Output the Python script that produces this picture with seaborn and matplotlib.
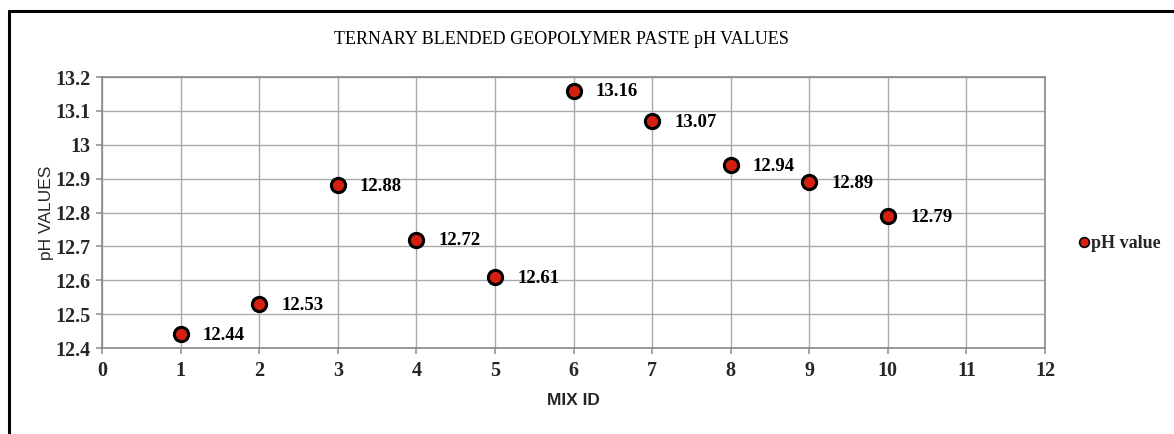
import matplotlib
matplotlib.use("Agg")
import matplotlib.pyplot as plt
import seaborn as sns
import pandas as pd
from matplotlib.lines import Line2D

mix_id = [1, 2, 3, 4, 5, 6, 7, 8, 9, 10]
ph_values = [12.44, 12.53, 12.88, 12.72, 12.61, 13.16, 13.07, 12.94, 12.89, 12.79]
x_ticks = list(range(0, 13))
y_ticks = [12.4, 12.5, 12.6, 12.7, 12.8, 12.9, 13.0, 13.1, 13.2]
y_tick_labels = ["12.4", "12.5", "12.6", "12.7", "12.8", "12.9", "13", "13.1", "13.2"]

df = pd.DataFrame({"MIX ID": mix_id, "pH value": ph_values})

sns.set_theme(style="white")
serif = ["Liberation Serif", "DejaVu Serif"]
sans = ["Liberation Sans", "DejaVu Sans"]

W, H = 1174, 434
fig = plt.figure(figsize=(W / 100, H / 100), dpi=100)
ax = fig.add_axes([102 / W, 1 - 348 / H, (1045 - 102) / W, (348 - 77) / H])

sns.scatterplot(data=df, x="MIX ID", y="pH value", ax=ax, s=105, color="#d42010",
                edgecolor="black", linewidth=2.2, zorder=3, legend=False)

for x, y in zip(mix_id, ph_values):
    ax.annotate(f"{y:.2f}", (x, y), xytext=(16, -1), textcoords="offset points",
                ha="left", va="center", fontsize=13.5, fontweight="bold",
                family=serif, color="black")

ax.set_xlim(0, 12)
ax.set_ylim(12.4, 13.2)
ax.set_xticks(x_ticks)
ax.set_xticklabels([str(t) for t in x_ticks], family=serif, fontweight="bold", fontsize=14.5)
ax.set_yticks(y_ticks)
ax.set_yticklabels(y_tick_labels, family=serif, fontweight="bold", fontsize=14.5)
ax.tick_params(axis="x", length=4, color="#999999", direction="out", pad=5, bottom=True)
ax.tick_params(axis="y", length=4, color="#999999", direction="out", pad=4, left=True)
ax.grid(True, color="#aaaaaa", linewidth=1.0)
for s in ax.spines.values():
    s.set_color("#888888")
    s.set_linewidth(1.2)

ax.set_xlabel("MIX ID", family=sans, fontweight="bold", fontsize=12.5, labelpad=9)
ax.set_ylabel("pH VALUES", family=sans, fontsize=12.5, labelpad=1)

fig.text(334 / W, 1 - 40 / H, "TERNARY BLENDED GEOPOLYMER PASTE pH VALUES",
         ha="left", va="center", family=serif, fontsize=13, color="black")

handle = Line2D([], [], marker="o", linestyle="none", markersize=7,
                markerfacecolor="#d42010", markeredgecolor="black", markeredgewidth=1.2)
fig.legend([handle], ["pH value"], loc="center left", bbox_to_anchor=(1066 / W, 1 - 244 / H),
           frameon=False, handletextpad=-0.1, borderpad=0, handlelength=1.0,
           prop={"family": serif, "weight": "bold", "size": 13})

# chart frame (left and top edges)
fig.add_artist(Line2D([8.5 / W, 8.5 / W], [0, 1 - 11 / H], transform=fig.transFigure,
                      color="black", linewidth=2.2))
fig.add_artist(Line2D([8.5 / W, 1], [1 - 11 / H, 1 - 11 / H], transform=fig.transFigure,
                      color="black", linewidth=2.2))

fig.savefig("out.png", dpi=100)
